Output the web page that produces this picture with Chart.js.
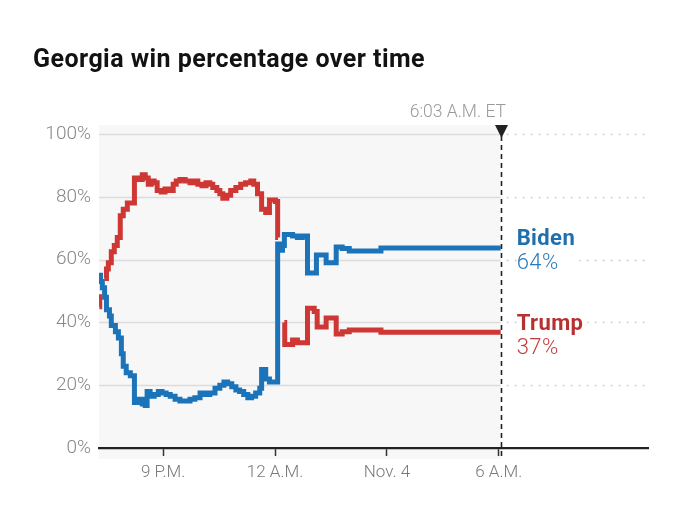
<!DOCTYPE html>
<html>
<head>
<meta charset="utf-8">
<script src="https://cdn.jsdelivr.net/npm/chart.js@4.4.0/dist/chart.umd.min.js"></script>
<style>
  html, body { margin:0; padding:0; background:#fff; }
  #wrap { position:relative; width:680px; height:523px; overflow:hidden; font-family: Roboto, "Noto Sans", sans-serif; }
  #c { position:absolute; left:0; top:0; }
  #title { position:absolute; left:33px; top:45px; font-size:25px; line-height:28px; font-weight:700; color:#121212; white-space:nowrap; letter-spacing:0.45px; }
  #nowlbl { position:absolute; top:102px; font-size:17.5px; line-height:19px; color:#9a9a9a; font-weight:300; white-space:nowrap; }
  .lbl { position:absolute; font-size:22px; line-height:24px; white-space:nowrap; background:#fff; padding-right:4px; letter-spacing:0.4px; }
  .lbl b { font-weight:700; display:block; }
  .lbl span { font-weight:300; display:block; }
</style>
</head>
<body>
<div id="wrap">
  <canvas id="c" width="680" height="523"></canvas>
  <div id="title">Georgia win percentage over time</div>
  <div id="nowlbl">6:03 A.M. ET</div>
  <div id="bidenLbl" class="lbl" style="color:#1f6fad"><b>Biden</b><span style="color:#2a7ab8">64%</span></div>
  <div id="trumpLbl" class="lbl" style="color:#b83030"><b>Trump</b><span style="color:#bf3b3b">37%</span></div>
</div>
<script>
// ---- data (hours after 7 P.M. ET, Nov. 3) ----
const tickHours  = [2, 5, 8, 11];
const tickLabels = ["9 P.M.", "12 A.M.", "Nov. 4", "6 A.M."];
const yTicks     = [0, 20, 40, 60, 80, 100];
const nowHour    = 11.05;   // 6:03 A.M. ET
const nowText    = "6:03 A.M. ET";

const redHours = [0.29,0.30,0.36,0.43,0.48,0.53,0.61,0.69,0.77,0.85,0.93,1.04,1.23,1.33,1.44,1.52,1.60,1.68,1.76,1.84,1.95,2.05,2.16,2.27,2.35,2.45,2.59,2.72,2.83,2.93,3.04,3.15,3.25,3.33,3.44,3.52,3.60,3.71,3.81,3.95,4.08,4.21,4.35,4.43,4.53,4.64,4.75,4.85,5.01,5.07,5.08,5.15,5.25,5.26,5.47,5.60,5.87,6.05,6.13,6.37,6.64,6.80,6.99,7.84,11.05];
const redPct   = [45,49,null,54,57,59,62.5,64.5,67,74,76,78,86,85.5,87,86,84,85,84.5,82,81.5,82.5,82,84,85,85.5,85,84.5,85,84,83.5,84.5,84,83,82,81,79.5,80.5,82,83,84,84.5,85,84,81,76,75,79,78.5,67,67,null,40,33,34.4,33.5,44.5,43.5,38.5,41.4,36.3,37,37.6,36.9,36.9];

const blueHours = [0.28,0.32,0.37,0.43,0.48,0.56,0.61,0.72,0.80,0.88,0.93,1.01,1.12,1.23,1.33,1.44,1.52,1.57,1.65,1.76,1.87,1.97,2.08,2.19,2.32,2.45,2.59,2.72,2.85,2.99,3.12,3.25,3.39,3.52,3.63,3.73,3.84,3.95,4.05,4.16,4.27,4.37,4.48,4.59,4.64,4.75,4.85,5.07,5.12,5.20,5.25,5.47,5.60,5.73,5.87,6.11,6.37,6.64,6.80,6.99,7.84,11.05];
const bluePct   = [55,53,51,48,44,42,39,37,35,30,26,24,23,14.5,15.5,14,13.5,18,16.5,17,18,17.5,17,16.5,15.5,15,15,15.5,16,17.5,17,17.5,19,20,21,20.5,19.5,18.5,18,17,16,16.5,17.5,19,25,22,21,65,63,64.5,68,67.5,67,67.5,55.7,61.5,59,64,63.5,62.7,63.7,63.7];

const bidenFinal = 64, trumpFinal = 37;

const BLUE = "#1b74b9", RED = "#cf3734";

const toPts = (hs, ps) => hs.map((h, i) => ({ x: h, y: ps[i] }));

const nowPlugin = {
  id: "nowLine",
  beforeDraw(chart) {
    const { ctx, chartArea: a, scales: { x, y } } = chart;
    const nx = x.getPixelForValue(nowHour);
    ctx.save();
    ctx.fillStyle = "#f7f7f7";
    ctx.fillRect(a.left, a.top - 9, nx - a.left, a.bottom - a.top + 20);
    yTicks.forEach(v => {
      if (v === 0) return;
      const py = Math.round(y.getPixelForValue(v)) + 0.5;
      ctx.lineWidth = 1.6;
      ctx.strokeStyle = "#dcdcdc";
      ctx.setLineDash([]);
      ctx.beginPath(); ctx.moveTo(a.left, py); ctx.lineTo(nx, py); ctx.stroke();
      ctx.strokeStyle = "#cfcfcf";
      ctx.setLineDash([2, 6]);
      ctx.beginPath(); ctx.moveTo(nx + 6, py); ctx.lineTo(a.right, py); ctx.stroke();
    });
    ctx.restore();
  },
  afterDatasetsDraw(chart) {
    const { ctx, chartArea: a, scales: { x } } = chart;
    const nx = Math.round(x.getPixelForValue(nowHour)) + 0.5;
    ctx.save();
    ctx.strokeStyle = "#222";
    ctx.lineWidth = 1.6;
    ctx.setLineDash([5, 4]);
    ctx.beginPath(); ctx.moveTo(nx, a.top + 2); ctx.lineTo(nx, a.bottom + 10); ctx.stroke();
    ctx.setLineDash([]);
    ctx.fillStyle = "#222";
    ctx.beginPath();
    ctx.moveTo(nx - 6.5, a.top - 9);
    ctx.lineTo(nx + 6.5, a.top - 9);
    ctx.lineTo(nx, a.top + 4);
    ctx.closePath(); ctx.fill();
    ctx.restore();
  },
  afterRender(chart) {
    const { scales: { x, y } } = chart;
    const nx = x.getPixelForValue(nowHour);
    const nl = document.getElementById("nowlbl");
    nl.textContent = nowText;
    nl.style.left = (nx + 5 - nl.offsetWidth) + "px";
    const b = document.getElementById("bidenLbl");
    b.style.left = (nx + 16) + "px";
    b.style.top = (y.getPixelForValue(bidenFinal) - 21) + "px";
    const t = document.getElementById("trumpLbl");
    t.style.left = (nx + 16) + "px";
    t.style.top = (y.getPixelForValue(trumpFinal) - 21) + "px";
  }
};

new Chart(document.getElementById("c"), {
  type: "line",
  data: {
    datasets: [
      { data: toPts(redHours, redPct), borderColor: RED, borderWidth: 5, stepped: true, pointRadius: 0, fill: false, spanGaps: false, borderJoinStyle: "miter", borderCapStyle: "butt" },
      { data: toPts(blueHours, bluePct), borderColor: BLUE, borderWidth: 5, stepped: true, pointRadius: 0, fill: false, spanGaps: false, borderJoinStyle: "miter", borderCapStyle: "butt" }
    ]
  },
  options: {
    responsive: false,
    animation: false,
    events: [],
    layout: { padding: { left: 0, right: 32, top: 134, bottom: 35 } },
    plugins: { legend: { display: false }, tooltip: { enabled: false } },
    scales: {
      x: {
        type: "linear",
        min: 0.28,
        max: 15,
        afterBuildTicks: s => { s.ticks = tickHours.map(v => ({ value: v })); },
        afterFit: s => { s.height = 40; },
        ticks: {
          autoSkip: false,
          maxRotation: 0,
          padding: 7,
          color: "#7a7a7a",
          font: { family: "Roboto", size: 17, weight: "300" },
          callback: v => tickLabels[tickHours.indexOf(v)]
        },
        grid: { drawOnChartArea: false, drawTicks: true, tickLength: 8, tickColor: "#333", tickWidth: 1.5 },
        border: { display: true, color: "#222", width: 2.2 }
      },
      y: {
        min: 0,
        max: 100,
        afterBuildTicks: s => { s.ticks = yTicks.map(v => ({ value: v })); },
        afterFit: s => { s.width = 99; },
        ticks: {
          padding: 8,
          color: "#888",
          font: { family: "Roboto", size: 19, weight: "300" },
          callback: v => v + "%"
        },
        grid: { display: false, drawTicks: false },
        border: { display: false }
      }
    }
  },
  plugins: [nowPlugin]
});
</script>
</body>
</html>
